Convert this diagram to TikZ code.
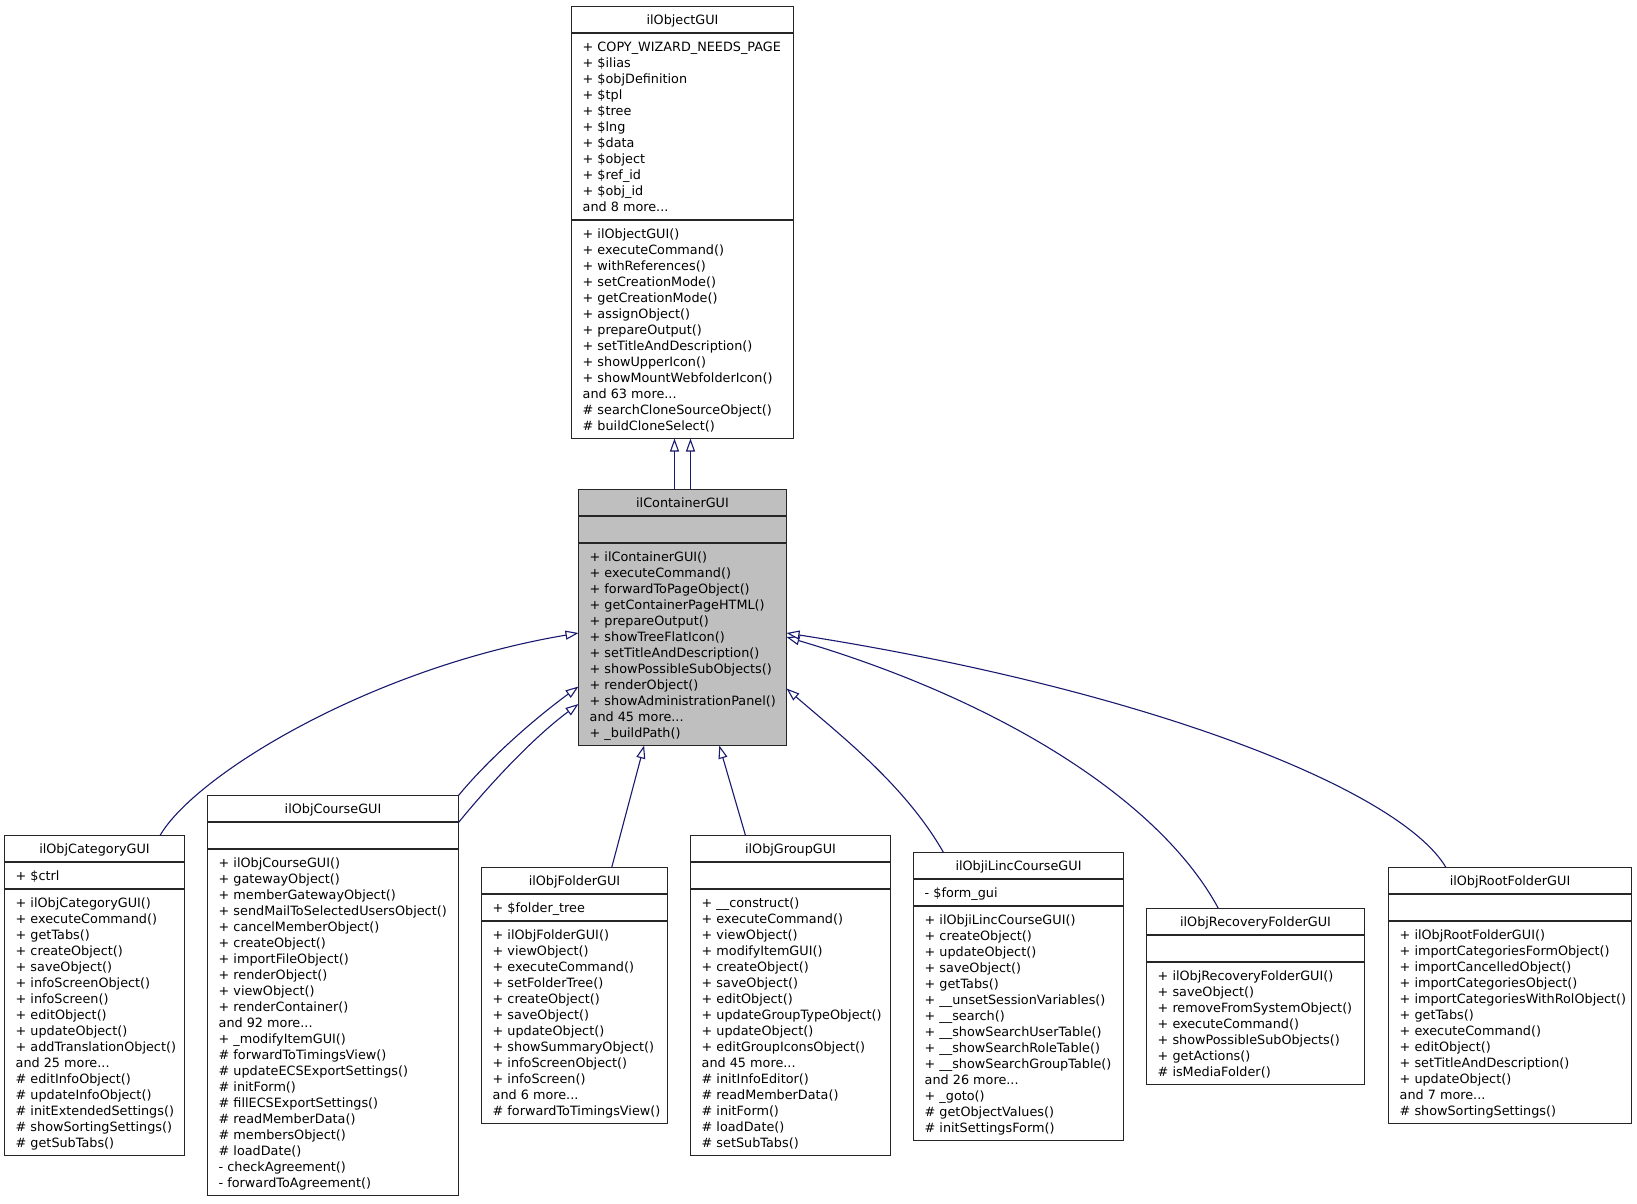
\documentclass[tikz,border=0pt]{standalone}
\usepackage{fontspec}
\setmainfont{DejaVu Sans}
\usetikzlibrary{arrows.meta,calc}
\definecolor{edgeblue}{HTML}{191970}
\definecolor{grey75}{HTML}{BFBFBF}
\newcommand\mdots{...}
% #1 name, #2 left, #3 top, #4 width, #5 attr rows, #6 method rows, #7 fill, #8 title
\newcommand\umlbox[8]{%
  \pgfmathsetmacro\sA{#3+26}%
  \pgfmathsetmacro\sB{\sA+16*#5+11}%
  \pgfmathsetmacro\hh{\sB+16*#6+11-#3}%
  \node[boxbg, fill=#7, minimum width=#4pt, minimum height=\hh pt] (#1) at (#2,#3) {};
  \node[titletext] (#1-t) at ({#2+#4/2},{#3+14.3}) {#8};
  \draw[sepline] (#2,{\sA+0.5}) -- ++(#4,0);
  \draw[sepline] (#2,{\sB+0.5}) -- ++(#4,0);
  \draw[boxline] (#1.north west) rectangle (#1.south east);
}
\newcommand\rowsA[3]{\foreach \t [count=\i from 0] in {#3} {\node[rowtext] (#1-a\i) at ({#2+11},{\sA+15+16*\i}) {\t};}}
\newcommand\rowsM[3]{\foreach \t [count=\i from 0] in {#3} {\node[rowtext] (#1-m\i) at ({#2+11},{\sB+15+16*\i}) {\t};}}
\begin{document}
\begin{tikzpicture}[x=1pt,y=-1pt,
  boxbg/.style={draw=none, anchor=north west, inner sep=0pt, outer sep=0pt},
  boxline/.style={draw=black!85, line width=1pt},
  sepline/.style={draw=black!85, line width=2pt},
  titletext/.style={inner sep=0pt, anchor=center, text height=9.5pt, text depth=2.5pt, font=\fontsize{12.8}{16}\selectfont},
  rowtext/.style={inner sep=0pt, anchor=west, text height=9.5pt, text depth=2.5pt, font=\fontsize{12.8}{16}\selectfont},
  inh/.style={draw=edgeblue, line width=1.1pt, -{Triangle[open, fill=white, length=13pt, width=9pt]}}]
\fill[white] (0,0) rectangle (1637,1203);
\useasboundingbox (0,0) rectangle (1637,1203);

% ilObjectGUI
\umlbox{obj}{571.5}{6.5}{222}{11}{13}{white}{ilObjectGUI}
\rowsA{obj}{571.5}{+ COPY\_WIZARD\_NEEDS\_PAGE, + \$ilias, + \$objDefinition, + \$tpl, + \$tree, + \$lng, + \$data, + \$object, + \$ref\_id, + \$obj\_id, and 8 more\mdots}
\rowsM{obj}{571.5}{+ ilObjectGUI(), + executeCommand(), + withReferences(), + setCreationMode(), + getCreationMode(), + assignObject(), + prepareOutput(), + setTitleAndDescription(), + showUpperIcon(), + showMountWebfolderIcon(), and 63 more\mdots, \# searchCloneSourceObject(), \# buildCloneSelect()}

% ilContainerGUI
\umlbox{cont}{578.5}{489.5}{208}{1}{12}{grey75}{ilContainerGUI}
\rowsM{cont}{578.5}{+ ilContainerGUI(), + executeCommand(), + forwardToPageObject(), + getContainerPageHTML(), + prepareOutput(), + showTreeFlatIcon(), + setTitleAndDescription(), + showPossibleSubObjects(), + renderObject(), + showAdministrationPanel(), and 45 more\mdots, + \_buildPath()}

% ilObjCategoryGUI
\umlbox{cat}{4.5}{835.5}{180}{1}{16}{white}{ilObjCategoryGUI}
\rowsA{cat}{4.5}{+ \$ctrl}
\rowsM{cat}{4.5}{+ ilObjCategoryGUI(), + executeCommand(), + getTabs(), + createObject(), + saveObject(), + infoScreenObject(), + infoScreen(), + editObject(), + updateObject(), + addTranslationObject(), and 25 more\mdots, \# editInfoObject(), \# updateInfoObject(), \# initExtendedSettings(), \# showSortingSettings(), \# getSubTabs()}

% ilObjCourseGUI
\umlbox{course}{207.5}{795.5}{251}{1}{21}{white}{ilObjCourseGUI}
\rowsM{course}{207.5}{+ ilObjCourseGUI(), + gatewayObject(), + memberGatewayObject(), + sendMailToSelectedUsersObject(), + cancelMemberObject(), + createObject(), + importFileObject(), + renderObject(), + viewObject(), + renderContainer(), and 92 more\mdots, + \_modifyItemGUI(), \# forwardToTimingsView(), \# updateECSExportSettings(), \# initForm(), \# fillECSExportSettings(), \# readMemberData(), \# membersObject(), \# loadDate(), - checkAgreement(), - forwardToAgreement()}

% ilObjFolderGUI
\umlbox{folder}{481.5}{867.5}{186}{1}{12}{white}{ilObjFolderGUI}
\rowsA{folder}{481.5}{+ \$folder\_tree}
\rowsM{folder}{481.5}{+ ilObjFolderGUI(), + viewObject(), + executeCommand(), + setFolderTree(), + createObject(), + saveObject(), + updateObject(), + showSummaryObject(), + infoScreenObject(), + infoScreen(), and 6 more\mdots, \# forwardToTimingsView()}

% ilObjGroupGUI
\umlbox{group}{690.5}{835.5}{200}{1}{16}{white}{ilObjGroupGUI}
\rowsM{group}{690.5}{+ \_\_construct(), + executeCommand(), + viewObject(), + modifyItemGUI(), + createObject(), + saveObject(), + editObject(), + updateGroupTypeObject(), + updateObject(), + editGroupIconsObject(), and 45 more\mdots, \# initInfoEditor(), \# readMemberData(), \# initForm(), \# loadDate(), \# setSubTabs()}

% ilObjiLincCourseGUI
\umlbox{ilinc}{913.5}{852.5}{210}{1}{14}{white}{ilObjiLincCourseGUI}
\rowsA{ilinc}{913.5}{- \$form\_gui}
\rowsM{ilinc}{913.5}{+ ilObjiLincCourseGUI(), + createObject(), + updateObject(), + saveObject(), + getTabs(), + \_\_unsetSessionVariables(), + \_\_search(), + \_\_showSearchUserTable(), + \_\_showSearchRoleTable(), + \_\_showSearchGroupTable(), and 26 more\mdots, + \_goto(), \# getObjectValues(), \# initSettingsForm()}

% ilObjRecoveryFolderGUI
\umlbox{recov}{1146.5}{908.5}{218}{1}{7}{white}{ilObjRecoveryFolderGUI}
\rowsM{recov}{1146.5}{+ ilObjRecoveryFolderGUI(), + saveObject(), + removeFromSystemObject(), + executeCommand(), + showPossibleSubObjects(), + getActions(), \# isMediaFolder()}

% ilObjRootFolderGUI
\umlbox{root}{1388.5}{867.5}{243}{1}{12}{white}{ilObjRootFolderGUI}
\rowsM{root}{1388.5}{+ ilObjRootFolderGUI(), + importCategoriesFormObject(), + importCancelledObject(), + importCategoriesObject(), + importCategoriesWithRolObject(), + getTabs(), + executeCommand(), + editObject(), + setTitleAndDescription(), + updateObject(), and 7 more\mdots, \# showSortingSettings()}

% inheritance edges
\draw[inh] ($(cont.north west)+(96,0)$) -- ($(obj.south west)+(103,0)$);
\draw[inh] ($(cont.north west)+(112,0)$) -- ($(obj.south west)+(119,0)$);
\draw[inh] ($(cat.north west)+(155.5,0)$) .. controls (195,775) and (370,668) .. ($(cont.north west)+(0,143.5)$);
\draw[inh] (course.north east) .. controls (485,763) and (530,722) .. ($(cont.north west)+(0,197)$);
\draw[inh] ($(course.north east)+(0,27)$) .. controls (485,790) and (530,740) .. ($(cont.north west)+(0,214.5)$);
\draw[inh] ($(folder.north west)+(130.2,0)$) -- ($(cont.south west)+(65.6,0)$);
\draw[inh] ($(group.north west)+(55,0)$) -- ($(cont.south west)+(140.8,0)$);
\draw[inh] ($(ilinc.north west)+(30,0)$) .. controls (905,785) and (840,735) .. ($(cont.north east)+(0,199)$);
\draw[inh] ($(recov.north west)+(71.9,0)$) .. controls (1160,800) and (1000,700) .. ($(cont.north east)+(0,147.5)$);
\draw[inh] ($(root.north west)+(57.5,0)$) .. controls (1400,790) and (1150,690) .. ($(cont.north east)+(0,143.5)$);
\end{tikzpicture}
\end{document}
